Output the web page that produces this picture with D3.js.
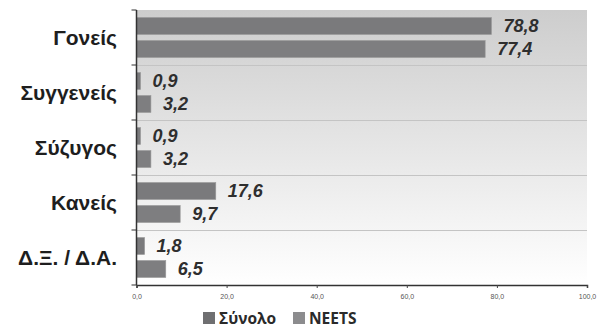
<!DOCTYPE html>
<html><head><meta charset="utf-8">
<script src="https://cdn.jsdelivr.net/npm/d3@7"></script>
<style>body{margin:0;background:#fff}svg{display:block}</style>
</head><body>
<svg id="c" width="605" height="328"></svg>
<script>
const categories = ["Γονείς","Συγγενείς","Σύζυγος","Κανείς","Δ.Ξ. / Δ.Α."];
const seriesNames = ["Σύνολο","NEETS"];
const synolo = [78.8, 0.9, 0.9, 17.6, 1.8];
const neets = [77.4, 3.2, 3.2, 9.7, 6.5];
const xTicks = [0,20,40,60,80,100];

(function(){
const svg = d3.select("#c");
const L = 136.5, R = 587, T = 10, B = 285;
const x = d3.scaleLinear().domain([0,100]).range([L,R]);
const y = d3.scaleBand().domain(categories).range([T,B]);
const fmt = v => d3.format(".1f")(v).replace(".", ",");

const defs = svg.append("defs");
const g = defs.append("linearGradient").attr("id","bg").attr("x1",0).attr("y1",0).attr("x2",0).attr("y2",1);
g.append("stop").attr("offset","0%").attr("stop-color","#cdcdcd");
g.append("stop").attr("offset","100%").attr("stop-color","#ffffff");

svg.append("rect").attr("x",L).attr("y",T).attr("width",R-L).attr("height",B-T).attr("fill","url(#bg)");

svg.selectAll(".grid").data(categories.slice(1)).enter().append("line")
  .attr("x1",L).attr("x2",R)
  .attr("y1",d=>y(d)+0.5).attr("y2",d=>y(d)+0.5)
  .attr("stroke","#c4c4c4").attr("stroke-width",1);

const bh = 17, gap = 6;
const off = (y.bandwidth() - 2*bh - gap)/2;
const data = [];
categories.forEach((c,i)=>{
  data.push({c, v: synolo[i], k:0});
  data.push({c, v: neets[i], k:1});
});
const colors = ["#7a7a7c","#7e7e80"];
svg.selectAll(".bar").data(data).enter().append("rect")
  .attr("x",L).attr("y",d=>y(d.c)+off+d.k*(bh+gap))
  .attr("width",d=>x(d.v)-L).attr("height",bh)
  .attr("fill",d=>colors[d.k]).attr("stroke","#9a9a9a").attr("stroke-width",0.6);

svg.selectAll(".val").data(data).enter().append("text")
  .attr("x",d=>x(d.v)+12).attr("y",d=>y(d.c)+off+d.k*(bh+gap)+bh/2)
  .attr("dy","0.36em")
  .attr("font-family","Liberation Sans, Arial, sans-serif").attr("font-size",18)
  .attr("font-weight","bold").attr("font-style","italic").attr("fill","#2e2e2e")
  .text(d=>fmt(d.v));

const xAxis = d3.axisBottom(x).tickValues(xTicks).tickSize(3).tickPadding(6).tickFormat(fmt);
const ax = svg.append("g").attr("transform",`translate(0,${B})`).call(xAxis);
ax.select(".domain").attr("stroke","#333").attr("stroke-width",1.5);
ax.selectAll(".tick line").attr("stroke","#444");
ax.selectAll("text").attr("font-family","Liberation Sans, Arial, sans-serif").attr("font-size",7).attr("fill","#555");

const yTickPos = categories.map(c=>y(c)).concat([B]);
svg.append("line").attr("x1",L).attr("x2",L).attr("y1",T).attr("y2",B)
  .attr("stroke","#333").attr("stroke-width",1.5);
svg.selectAll(".yt").data(yTickPos).enter().append("line")
  .attr("x1",L-5).attr("x2",L).attr("y1",d=>d).attr("y2",d=>d)
  .attr("stroke","#333").attr("stroke-width",1);

svg.selectAll(".cat").data(categories).enter().append("text")
  .attr("x",117).attr("y",d=>y(d)+y.bandwidth()/2).attr("dy","0.36em")
  .attr("text-anchor","end")
  .attr("font-family","Liberation Sans, Arial, sans-serif").attr("font-size",21)
  .attr("font-weight","bold").attr("fill","#1e1e1e")
  .text(d=>d);

const legX = [203, 293];
const lg = svg.selectAll(".leg").data(seriesNames).enter().append("g")
  .attr("transform",(d,i)=>`translate(${legX[i]},0)`);
lg.append("rect").attr("x",0).attr("y",312).attr("width",12).attr("height",12)
  .attr("fill",(d,i)=>i===0?"#6f6f71":"#8c8c8e");
lg.append("text").attr("x",16).attr("y",324)
  .attr("font-family","Open Sans, sans-serif").attr("font-size",15.5)
  .attr("font-weight","bold").attr("fill","#2a2a2a").text(d=>d);
})();
</script>
</body></html>
